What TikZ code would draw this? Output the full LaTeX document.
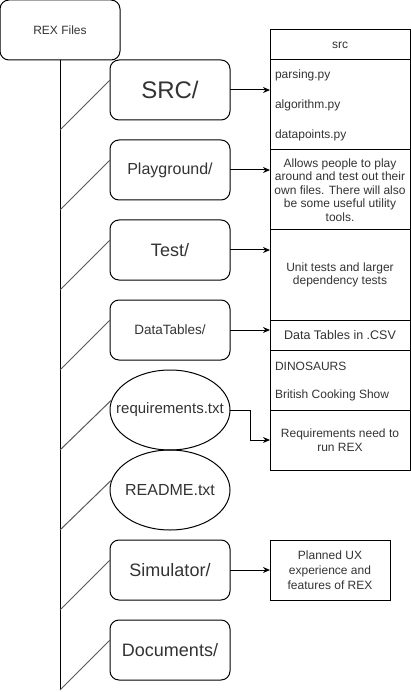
\documentclass[tikz,border=0pt]{standalone}
\usepackage{fontspec}
\setmainfont{Liberation Sans}
\usetikzlibrary{arrows.meta,shapes.geometric,positioning}
\definecolor{txt}{HTML}{333333}
\tikzset{
  every node/.style={text=txt, inner sep=0pt, outer sep=0pt},
  folder/.style={draw=black, line width=1pt, rounded corners=9pt, minimum width=120pt, minimum height=60pt},
  filebox/.style={draw=black, line width=1pt, ellipse, minimum width=120pt, minimum height=80pt},
  desc/.style={draw=black, line width=1pt, minimum width=140pt, align=center, font=\fontsize{12}{13.5}\selectfont},
  item/.style={anchor=west, font=\fontsize{12}{14}\selectfont},
  branch/.style={draw=black!65, line width=1pt},
  trunk/.style={draw=black, line width=1pt},
  link/.style={draw=black, line width=1pt, -{Stealth[length=7pt,width=6pt]}},
}
\begin{document}
\begin{tikzpicture}[x=1pt,y=-1pt]
\useasboundingbox (0,0) rectangle (411,692);
% root
\node[folder, font=\fontsize{12}{14}\selectfont] (root) at (60,30) {REX Files};
\coordinate (tend) at (60,690);
\draw[trunk] (root.south) -- (tend);
% folders
\node[folder, font=\fontsize{24}{28}\selectfont] (src) at (170,90) {SRC/};
\node[folder, font=\fontsize{16}{19}\selectfont] (play) at (170,170) {Playground/};
\node[folder, font=\fontsize{18}{21}\selectfont] (test) at (170,250) {Test/};
\node[folder, font=\fontsize{13.5}{16}\selectfont] (data) at (170,330) {DataTables/};
\node[filebox, font=\fontsize{15}{18}\selectfont] (req) at (170,410) {\makebox[0pt]{requirements.txt}};
\node[filebox, font=\fontsize{16}{19}\selectfont] (readme) at (170,490) {\makebox[0pt]{README.txt}};
\node[folder, font=\fontsize{18}{21}\selectfont] (sim) at (170,570) {Simulator/};
\node[folder, font=\fontsize{18}{21}\selectfont] (doc) at (170,650) {Documents/};
% branches
\coordinate (b1) at (60,130); \coordinate (e1) at (110,80);
\coordinate (b2) at (60,210); \coordinate (e2) at (110,160);
\coordinate (b3) at (60,290); \coordinate (e3) at (110,240);
\coordinate (b4) at (60,370); \coordinate (e4) at (110,320);
\coordinate (b5) at (60,450); \coordinate (e5) at (111.5,400);
\coordinate (b6) at (60,530); \coordinate (e6) at (111.5,480);
\coordinate (b7) at (60,610); \coordinate (e7) at (110,560);
\coordinate (b8) at (60,690); \coordinate (e8) at (110,640);
\foreach \i in {1,...,8} { \draw[branch] (b\i) -- (e\i); }
% src list
\node[desc, minimum height=30pt] (srchead) at (340,45) {src};
\node[desc, minimum height=90pt] (srcbody) at (340,105) {};
\node[item] (p1) at (275,75) {parsing.py};
\node[item] (p2) at (275,105) {algorithm.py};
\node[item] (p3) at (275,135) {datapoints.py};
% descriptions
\node[desc, minimum height=80pt] (playd) at (340,190) {Allows people to play\\around and test out their\\own files. There will also\\be some useful utility\\tools.};
\node[desc, minimum height=90pt] (testd) at (340,275) {Unit tests and larger\\dependency tests};
\node[desc, minimum height=30pt, font=\fontsize{12.5}{14}\selectfont] (datad) at (340,335) {Data Tables in .CSV};
\node[desc, minimum height=60pt] (dino) at (340,380) {};
\node[item] (d1) at (275,366) {DINOSAURS};
\node[item] (d2) at (275,395) {British Cooking Show};
\node[desc, minimum height=60pt] (reqd) at (340,440) {Requirements need to\\run REX};
\node[desc, minimum width=120pt, minimum height=60pt, font=\fontsize{12}{15}\selectfont] (simd) at (330,570) {Planned UX\\experience and\\features of REX};
% links
\draw[link] (src.east) -- (src.east -| srcbody.west);
\draw[link] (play.east) -- (play.east -| playd.west);
\draw[link] (test.east) -- (test.east -| testd.west);
\draw[link] (data.east) -- (data.east -| datad.west);
\draw[link] (req.east) -| (250,440) -- (reqd.west);
\draw[link] (sim.east) -- (simd.west);
\end{tikzpicture}
\end{document}
